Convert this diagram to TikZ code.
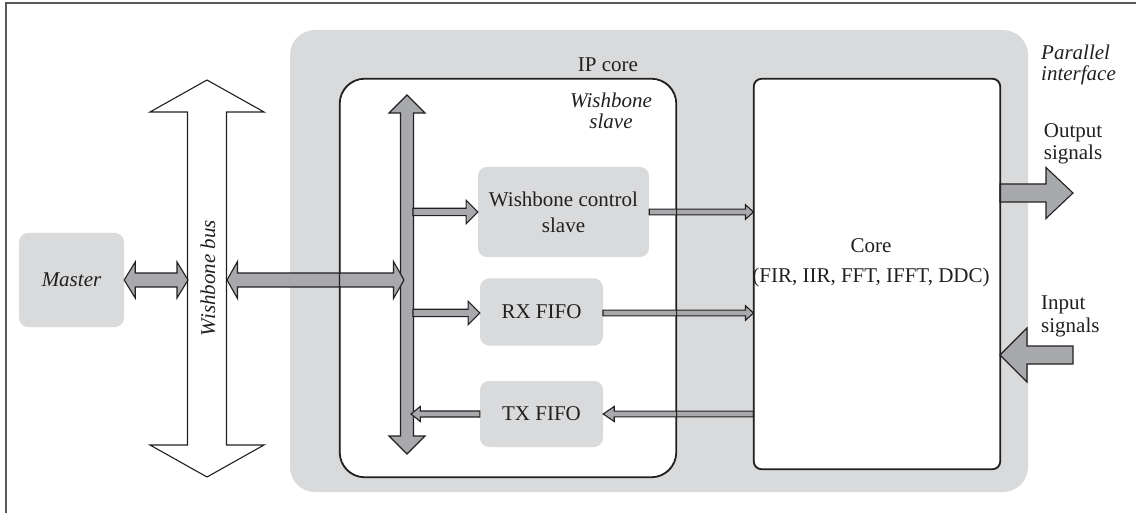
\documentclass[tikz,border=0pt]{standalone}
\usepackage{fontspec}
\setmainfont{Liberation Serif}
\usetikzlibrary{calc}

\definecolor{panelgrey}{HTML}{D9DADB}
\definecolor{arrowgrey}{HTML}{A7A9AC}
\definecolor{inkline}{HTML}{231F20}
\definecolor{framegrey}{HTML}{58595B}

\tikzset{
  outline/.style={draw=inkline, line width=1.1pt},
  fatarrow/.style={outline, fill=arrowgrey, line join=miter},
  busarrow/.style={outline, fill=white, line join=miter},
  softbox/.style={fill=panelgrey, rounded corners=9pt, inner sep=0pt},
  lbl/.style={font=\fontsize{21}{25}\selectfont, inner sep=0pt, text=inkline},
  ilbl/.style={lbl, font=\fontsize{21}{21}\selectfont\itshape},
}

% horizontal double arrow: #2 left tip, #3 right tip, #4 half shaft, #5 half head, #6 head length
\newcommand\hdarrow[6]{\draw[#1] let \p1=(#2), \p2=(#3) in
  (\x1,\y1) -- ({\x1+#6pt},{\y1+#5pt}) -- ({\x1+#6pt},{\y1+#4pt}) -- ({\x2-#6pt},{\y1+#4pt})
  -- ({\x2-#6pt},{\y1+#5pt}) -- (\x2,\y1) -- ({\x2-#6pt},{\y1-#5pt}) -- ({\x2-#6pt},{\y1-#4pt})
  -- ({\x1+#6pt},{\y1-#4pt}) -- ({\x1+#6pt},{\y1-#5pt}) -- cycle;}

% vertical double arrow: #2 top tip, #3 bottom tip
\newcommand\vdarrow[6]{\draw[#1] let \p1=(#2), \p2=(#3) in
  (\x1,\y1) -- ({\x1+#5pt},{\y1-#6pt}) -- ({\x1+#4pt},{\y1-#6pt}) -- ({\x1+#4pt},{\y2+#6pt})
  -- ({\x1+#5pt},{\y2+#6pt}) -- (\x1,\y2) -- ({\x1-#5pt},{\y2+#6pt}) -- ({\x1-#4pt},{\y2+#6pt})
  -- ({\x1-#4pt},{\y1-#6pt}) -- ({\x1-#5pt},{\y1-#6pt}) -- cycle;}

% horizontal single arrow from tail #2 to tip #3 (either direction)
\newcommand\hsarrow[6]{\draw[#1] let \p1=(#2), \p2=(#3),
  \n1={ifthenelse(\x2>\x1,1,-1)} in
  ({\x1},{\y1+#4pt}) -- ({\x2-\n1*#6pt},{\y1+#4pt}) -- ({\x2-\n1*#6pt},{\y1+#5pt}) -- (\x2,\y1)
  -- ({\x2-\n1*#6pt},{\y1-#5pt}) -- ({\x2-\n1*#6pt},{\y1-#4pt}) -- ({\x1},{\y1-#4pt}) -- cycle;}

\begin{document}
\begin{tikzpicture}[x=1pt, y=-1pt]
\useasboundingbox (0,0) rectangle (1136,513);

% page frame
\draw[framegrey, line width=1.5pt] (6,513) -- (6,3) -- (1136,3);

% IP core panel, Wishbone slave area and core
\node[fill=panelgrey, rounded corners=25pt, minimum width=738pt, minimum height=462pt, inner sep=0pt] (ip) at (659,261) {};
\node[outline, fill=white, rounded corners=25pt, minimum width=336pt, minimum height=398pt, inner sep=0pt] (slave) at (508,278) {};
\node[outline, fill=white, rounded corners=8pt, minimum width=246pt, minimum height=390pt, inner sep=0pt] (core) at (877,274) {};

% functional blocks
\node[softbox, lbl, font=\fontsize{21}{25}\selectfont\itshape, minimum width=105pt, minimum height=94pt] (master) at (71.5,280) {Master};
\node[softbox, lbl, align=center, font=\fontsize{21}{26}\selectfont, minimum width=171pt, minimum height=90pt] (wcs) at (563.5,212) {Wishbone control\\slave};
\node[softbox, lbl, minimum width=123pt, minimum height=67pt] (rx) at (541.5,312) {RX FIFO};
\node[softbox, lbl, minimum width=123pt, minimum height=66pt] (tx) at (541.5,414) {TX FIFO};

% reference points for the buses
\coordinate (bustop) at (207,80);
\coordinate (busbot) at (207,477);
\coordinate (busW) at (188,280);
\coordinate (busE) at (227,280);
\coordinate (bartop) at (407,95);
\coordinate (barbot) at (407,454);
\coordinate (barW) at (404,280);
\coordinate (barWcs) at (413,212);
\coordinate (barRx) at (413,313);
\coordinate (barTx) at (411,414);
\coordinate (rxE) at (603,313);
\coordinate (coreRx) at (core.west |- rxE);
\coordinate (coreWcs) at (core.west |- wcs.east);
\coordinate (coreTx) at (core.west |- tx.east);
\coordinate (outTail) at (1000,193);
\coordinate (outTip) at (1073,193);
\coordinate (inTail) at (1073,355);
\coordinate (inTip) at (1000,355);

% Wishbone bus and internal bus
\vdarrow{busarrow}{bustop}{busbot}{19.5}{57}{32}
\vdarrow{fatarrow}{bartop}{barbot}{6.5}{18}{18}

% bus connections
\hdarrow{fatarrow}{master.east}{busW}{7}{18}{11}
\hdarrow{fatarrow}{busE}{barW}{7}{18.5}{10.5}
\hsarrow{fatarrow}{barWcs}{wcs.west}{3.7}{11.7}{11.7}
\hsarrow{fatarrow}{barRx}{rx.west}{3.7}{11.7}{11.7}
\hsarrow{fatarrow}{tx.west}{barTx}{3}{7.5}{9.3}

% data paths to and from the core
\hsarrow{fatarrow}{wcs.east}{coreWcs}{2.9}{7.3}{8}
\hsarrow{fatarrow}{rxE}{coreRx}{2.9}{7.3}{8}
\hsarrow{fatarrow}{coreTx}{tx.east}{2.9}{7.5}{11}

% parallel interface
\hsarrow{fatarrow}{outTail}{outTip}{9}{25.5}{27}
\hsarrow{fatarrow}{inTail}{inTip}{9}{27}{27}

% outlines over the crossing arrows
\draw[outline, rounded corners=25pt] (slave.south west) rectangle (slave.north east);
\draw[outline, rounded corners=8pt] (core.south west) rectangle (core.north east);

% labels
\node[lbl] (iplbl) at (608,65) {IP core};
\node[ilbl, align=center] (slavelbl) at (611,111) {Wishbone\\slave};
\node[ilbl, align=left, anchor=west] (parlbl) at (1041,65) {Parallel\\interface};
\node[lbl, align=center, font=\fontsize{21}{22}\selectfont] (outlbl) at (1073,144) {Output\\signals};
\node[lbl, align=left, anchor=west, font=\fontsize{21}{23}\selectfont] (inlbl) at (1041,316) {Input\\signals};
\node[lbl, align=center] (corelbl) at (871,263) {Core\\[5pt](FIR, IIR, FFT, IFFT, DDC)};
\node[lbl, font=\fontsize{21}{25}\selectfont\itshape, rotate=90] (buslbl) at (208,278) {Wishbone bus};
\end{tikzpicture}
\end{document}
